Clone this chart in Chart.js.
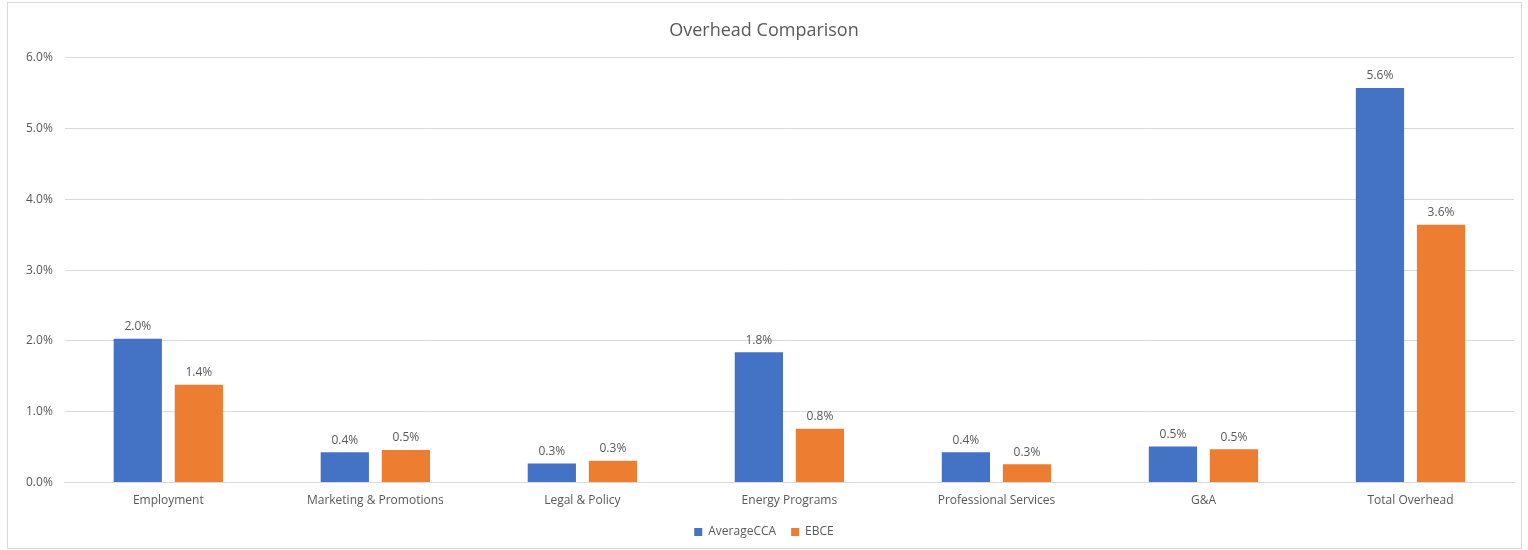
<!DOCTYPE html>
<html>
<head>
<meta charset="utf-8">
<script src="https://cdn.jsdelivr.net/npm/chart.js@4/dist/chart.umd.min.js"></script>
<style>
  html, body { margin: 0; padding: 0; background: #fff; }
  #wrap { position: relative; width: 1528px; height: 550px; }
  #frame { position: absolute; left: 7px; top: 2px; width: 1513px; height: 545px; border: 1px solid #d9d9d9; pointer-events: none; }
  canvas { position: absolute; left: 0; top: 0; }
</style>
</head>
<body>
<div id="wrap">
  <canvas id="c" width="1528" height="550"></canvas>
  <div id="frame"></div>
</div>
<script>
const categories = ["Employment", "Marketing & Promotions", "Legal & Policy", "Energy Programs", "Professional Services", "G&A", "Total Overhead"];
const averageCCA = [2.03, 0.43, 0.27, 1.84, 0.43, 0.51, 5.57];
const ebce = [1.38, 0.46, 0.31, 0.76, 0.26, 0.47, 3.64];
const yTicks = [0, 1, 2, 3, 4, 5, 6];

const FONT = "'Open Sans', 'Liberation Sans', sans-serif";
const GRAY = '#595959';

const labelPlugin = {
  id: 'barLabels',
  afterDatasetsDraw(chart) {
    const ctx = chart.ctx;
    ctx.save();
    ctx.font = '12px ' + FONT;
    ctx.fillStyle = GRAY;
    ctx.textAlign = 'center';
    ctx.textBaseline = 'bottom';
    chart.data.datasets.forEach((ds, i) => {
      const meta = chart.getDatasetMeta(i);
      meta.data.forEach((el, j) => {
        ctx.fillText(ds.data[j].toFixed(1) + '%', el.x, el.y - 6);
      });
    });
    ctx.restore();
  }
};

new Chart(document.getElementById('c'), {
  type: 'bar',
  data: {
    labels: categories,
    datasets: [
      { label: 'AverageCCA', data: averageCCA, backgroundColor: '#4472c4', borderWidth: 0 },
      { label: 'EBCE', data: ebce, backgroundColor: '#ed7d31', borderWidth: 0 }
    ]
  },
  options: {
    responsive: false,
    animation: false,
    devicePixelRatio: 1,
    layout: { padding: { left: 14, right: 14, top: 20, bottom: 2 } },
    categoryPercentage: 0.59,
    barPercentage: 0.79,
    plugins: {
      title: {
        display: true,
        text: 'Overhead Comparison',
        color: GRAY,
        font: { family: FONT, size: 18, weight: 'normal' },
        padding: { top: 0, bottom: 16 }
      },
      legend: {
        position: 'bottom',
        labels: {
          color: GRAY,
          font: { family: FONT, size: 12 },
          boxWidth: 8,
          boxHeight: 8,
          padding: 15
        }
      },
      tooltip: { enabled: false }
    },
    scales: {
      x: {
        grid: { display: false },
        border: { display: true, color: '#d9d9d9' },
        ticks: { color: GRAY, font: { family: FONT, size: 12 }, padding: 3, maxRotation: 0 }
      },
      y: {
        min: 0,
        max: 6,
        afterBuildTicks(axis) { axis.ticks = yTicks.map(v => ({ value: v })); },
        grid: { color: '#d9d9d9', drawTicks: false },
        border: { display: false },
        ticks: {
          color: GRAY,
          font: { family: FONT, size: 12 },
          padding: 12,
          callback: v => v.toFixed(1) + '%'
        }
      }
    }
  },
  plugins: [labelPlugin]
});
</script>
</body>
</html>
